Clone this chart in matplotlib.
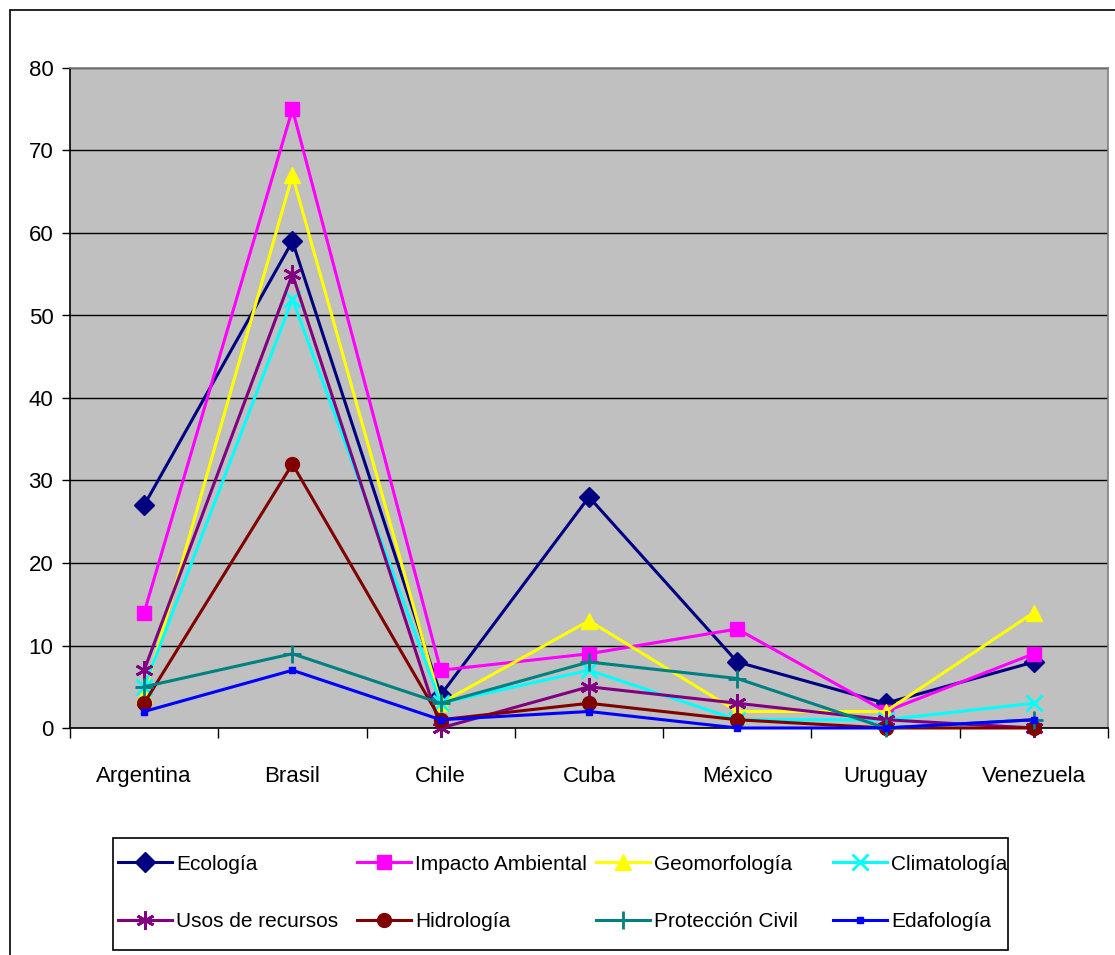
import numpy as np
import matplotlib
matplotlib.use('Agg')
import matplotlib.pyplot as plt
from matplotlib.patches import Rectangle

plt.rcParams['font.family'] = ['Liberation Sans Narrow', 'Liberation Sans', 'DejaVu Sans']

# datos
paises = ['Argentina', 'Brasil', 'Chile', 'Cuba', 'México', 'Uruguay', 'Venezuela']
ecologia = [27, 59, 4, 28, 8, 3, 8]
impacto = [14, 75, 7, 9, 12, 2, 9]
geomorfologia = [4, 67, 3, 13, 2, 2, 14]
climatologia = [5, 52, 3, 7, 1, 1, 3]
usos = [7, 55, 0, 5, 3, 1, 0]
hidrologia = [3, 32, 1, 3, 1, 0, 0]
proteccion = [5, 9, 3, 8, 6, 0, 1]
edafologia = [2, 7, 1, 2, 0, 0, 1]

series = [
    ('Ecología', ecologia, '#000080', 'D', 10),
    ('Impacto Ambiental', impacto, '#FF00FF', 's', 10),
    ('Geomorfología', geomorfologia, '#FFFF00', '^', 11),
    ('Climatología', climatologia, '#00FFFF', 'x', 11),
    ('Usos de recursos', usos, '#800080', (6, 2, 0), 13),
    ('Hidrología', hidrologia, '#800000', 'o', 10),
    ('Protección Civil', proteccion, '#008080', '+', 13),
    ('Edafología', edafologia, '#0000FF', 's', 5),
]

W, H = 1115, 955
fig = plt.figure(figsize=(W / 100, H / 100), dpi=100)
fig.patch.set_facecolor('white')

# marco exterior
fig.add_artist(Rectangle((10 / W, -0.01), 1.02, 1 - 10 / H + 0.01, transform=fig.transFigure,
                         fill=False, edgecolor='black', linewidth=1.2))

ax = fig.add_axes([70 / W, (H - 728) / H, 1038 / W, 660 / H])
ax.set_facecolor('#C0C0C0')

x = np.arange(len(paises))
handles = []
for name, vals, color, mk, ms in series:
    mew = 2 if mk in ('x', '+') or isinstance(mk, tuple) else 1
    ln, = ax.plot(x, vals, color=color, linewidth=2.2, marker=mk, markersize=ms,
                  markerfacecolor=color, markeredgecolor=color, markeredgewidth=mew,
                  label=name, clip_on=False, zorder=3)
    handles.append(ln)

ax.set_xlim(-0.5, len(paises) - 0.5)
ax.set_ylim(0, 80)
ax.set_yticks(np.arange(0, 81, 10))
ax.yaxis.grid(True, color='black', linewidth=1)
ax.set_axisbelow(True)

ax.set_xticks(x)
ax.set_xticklabels(paises)
ax.set_xticks(np.arange(-0.5, len(paises), 1), minor=True)
ax.tick_params(axis='x', which='major', length=0, pad=27, labelsize=16)
ax.tick_params(axis='x', which='minor', length=7, width=1, direction='out')
ax.tick_params(axis='y', length=6, width=1, direction='out', pad=6, labelsize=16)

for s in ['left', 'bottom']:
    ax.spines[s].set_color('black')
    ax.spines[s].set_linewidth(1.2)
for s in ['top', 'right']:
    ax.spines[s].set_color('#808080')
    ax.spines[s].set_linewidth(1.2)

# leyenda con columnas de igual ancho
fig.add_artist(Rectangle((113 / W, (H - 950) / H), 895 / W, 112 / H, transform=fig.transFigure,
                         facecolor='white', edgecolor='black', linewidth=1.2))
col_x = [101, 340, 579, 816]
for i, cx in enumerate(col_x):
    fig.legend(handles=[handles[i], handles[i + 4]], loc='upper left',
               bbox_to_anchor=(cx / W, (H - 838) / H), frameon=False,
               fontsize=15, handlelength=2.6, handletextpad=0.2,
               labelspacing=1.85, borderpad=0.3)

fig.savefig('out.png', dpi=100)
